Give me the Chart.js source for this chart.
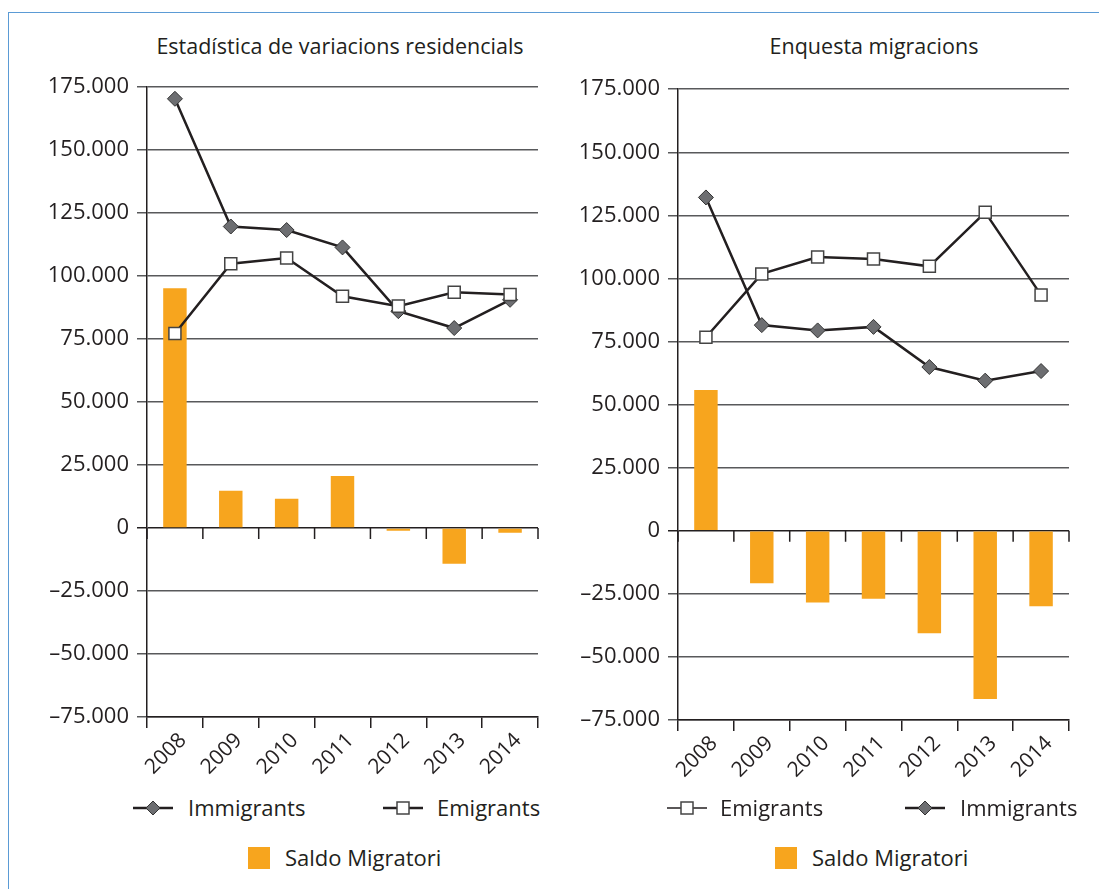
<!DOCTYPE html>
<html>
<head>
<meta charset="utf-8">
<script src="https://cdn.jsdelivr.net/npm/chart.js@4.4.0/dist/chart.umd.min.js"></script>
<style>
  body { margin: 0; background: #fff; font-family: "Open Sans", sans-serif; color: #231f20; }
  #page { position: relative; width: 1099px; height: 889px; overflow: hidden; }
  #frame { position: absolute; left: 8px; top: 12px; width: 1200px; height: 1000px;
           border-left: 1.5px solid #5b9bd5; border-top: 1.5px solid #5b9bd5; }
  .title { position: absolute; top: 31px; font-size: 21.5px; line-height: 30px; white-space: nowrap; transform: translateX(-50%); }
  .box { position: absolute; }
  .lg { position: absolute; font-size: 22px; line-height: 30px; white-space: nowrap; }
  .mk { position: absolute; }
  .sq { position: absolute; width: 22px; height: 22px; background: #f7a51e; }
</style>
</head>
<body>
<div id="page">
  <div id="frame"></div>

  <div class="title" style="left:340px">Estadística de variacions residencials</div>
  <div class="title" style="left:874px">Enquesta migracions</div>

  <div class="box" style="left:20px; top:66px; width:530px; height:724px;"><canvas id="c1"></canvas></div>
  <div class="box" style="left:551px; top:68px; width:530px; height:725px;"><canvas id="c2"></canvas></div>

  <!-- left legend -->
  <svg class="mk" style="left:133px; top:800px" width="40" height="16"><line x1="0" y1="8" x2="40" y2="8" stroke="#231f20" stroke-width="2.5"/><polygon points="20,1 27,8 20,15 13,8" fill="#6d6e71" stroke="#333" stroke-width="1"/></svg>
  <div class="lg" style="left:188px; top:792px">Immigrants</div>
  <svg class="mk" style="left:383px; top:800px" width="40" height="16"><line x1="0" y1="8" x2="40" y2="8" stroke="#231f20" stroke-width="2.5"/><rect x="14" y="2" width="12" height="12" fill="#fff" stroke="#444" stroke-width="1.5"/></svg>
  <div class="lg" style="left:437px; top:792px">Emigrants</div>
  <div class="sq" style="left:248px; top:847px"></div>
  <div class="lg" style="left:285px; top:842px">Saldo Migratori</div>

  <!-- right legend -->
  <svg class="mk" style="left:667px; top:800px" width="40" height="16"><line x1="0" y1="8" x2="40" y2="8" stroke="#231f20" stroke-width="1.5"/><rect x="14" y="2" width="12" height="12" fill="#fff" stroke="#444" stroke-width="1.5"/></svg>
  <div class="lg" style="left:720px; top:792px">Emigrants</div>
  <svg class="mk" style="left:905px; top:800px" width="40" height="16"><line x1="0" y1="8" x2="40" y2="8" stroke="#231f20" stroke-width="2.5"/><polygon points="20,1 27,8 20,15 13,8" fill="#6d6e71" stroke="#333" stroke-width="1"/></svg>
  <div class="lg" style="left:960px; top:792px">Immigrants</div>
  <div class="sq" style="left:775px; top:847px"></div>
  <div class="lg" style="left:812px; top:842px">Saldo Migratori</div>
</div>

<script>
// categories
const years = ['2008', '2009', '2010', '2011', '2012', '2013', '2014'];

// Estadística de variacions residencials
const evrImmigrants = [170400, 119700, 118300, 111400, 86100, 79400, 90600];
const evrEmigrants  = [77200, 104900, 107200, 92000, 88100, 93600, 92700];
const evrSaldo      = [95200, 14800, 11600, 20700, -1100, -14200, -1900];

// Enquesta migracions
const emEmigrants  = [76700, 101800, 108500, 107700, 104800, 126200, 93400];
const emImmigrants = [132100, 81500, 79400, 80800, 64900, 59500, 63300];
const emSaldo      = [55800, -20800, -28400, -26900, -40600, -66700, -29900];

// y axis
const yMin = -75000, yMax = 175000, yStep = 25000;

const ink = '#231f20';
const gridGray = '#58595b';
const orange = '#f7a51e';

const fmt = v => {
    const s = Math.abs(v).toString().replace(/\B(?=(\d{3})+(?!\d))/g, '.');
    return v < 0 ? '–' + s : s;
};

// small tick marks hanging below the zero line
const zeroTicks = {
    id: 'zeroTicks',
    afterDraw(chart) {
        const x = chart.scales.x, y = chart.scales.y;
        const y0 = y.getPixelForValue(0);
        const ctx = chart.ctx;
        const half = (x.getPixelForValue(1) - x.getPixelForValue(0)) / 2;
        ctx.save();
        ctx.strokeStyle = ink;
        ctx.lineWidth = 1.5;
        ctx.beginPath();
        for (let i = 0; i <= years.length; i++) {
            const px = x.getPixelForValue(0) - half + i * half * 2;
            ctx.moveTo(px, y0);
            ctx.lineTo(px, y0 + 11);
        }
        ctx.stroke();
        ctx.restore();
    }
};

const makeChart = (id, immigrants, emigrants, saldo) => {
    return new Chart(document.getElementById(id), {
        data: {
            labels: years,
            datasets: [
                {
                    type: 'bar',
                    label: 'Saldo Migratori',
                    data: saldo,
                    backgroundColor: orange,
                    categoryPercentage: 1,
                    barPercentage: 0.42,
                    order: 2
                },
                {
                    type: 'line',
                    label: 'Immigrants',
                    data: immigrants,
                    borderColor: ink,
                    borderWidth: 2.5,
                    tension: 0,
                    pointStyle: 'rectRot',
                    pointRadius: 7.5,
                    pointBackgroundColor: '#6d6e71',
                    pointBorderColor: '#333',
                    pointBorderWidth: 1,
                    order: 1
                },
                {
                    type: 'line',
                    label: 'Emigrants',
                    data: emigrants,
                    borderColor: ink,
                    borderWidth: 2.5,
                    tension: 0,
                    pointStyle: 'rect',
                    pointRadius: 8.5,
                    pointBackgroundColor: '#fff',
                    pointBorderColor: '#444',
                    pointBorderWidth: 1.5,
                    order: 0
                }
            ]
        },
        options: {
            responsive: true,
            maintainAspectRatio: false,
            animation: false,
            events: [],
            layout: { padding: { top: 20, right: 12, left: 0, bottom: 0 } },
            plugins: { legend: { display: false }, title: { display: false }, tooltip: { enabled: false } },
            scales: {
                x: {
                    offset: true,
                    grid: { offset: true, drawOnChartArea: false, drawTicks: true, tickLength: 11, color: ink, lineWidth: 1.5 },
                    border: { color: ink, width: 1.5 },
                    ticks: {
                        minRotation: 45, maxRotation: 45, padding: 0, labelOffset: 8,
                        color: ink, font: { family: 'Open Sans', size: 21 }
                    },
                    afterFit: s => { s.height = 73; }
                },
                y: {
                    min: yMin, max: yMax,
                    grid: {
                        color: c => c.tick && c.tick.value === 0 ? ink : gridGray,
                        lineWidth: 1.5, tickLength: 10
                    },
                    border: { color: ink, width: 1.5 },
                    ticks: {
                        stepSize: yStep, padding: 8, color: ink,
                        font: { family: 'Open Sans', size: 22 },
                        callback: v => fmt(v)
                    },
                    afterFit: s => { s.width = 127; }
                }
            }
        },
        plugins: [zeroTicks]
    });
};

makeChart('c1', evrImmigrants, evrEmigrants, evrSaldo);
makeChart('c2', emImmigrants, emEmigrants, emSaldo);
</script>
</body>
</html>
